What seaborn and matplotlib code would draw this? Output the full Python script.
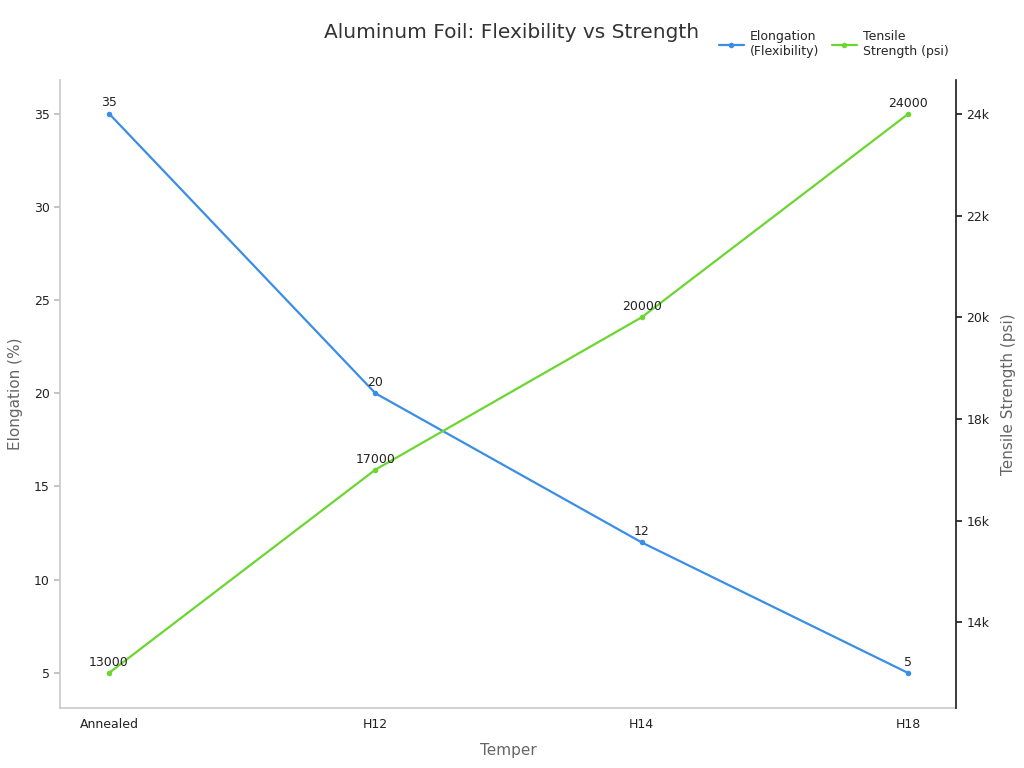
import matplotlib
matplotlib.use("Agg")
import matplotlib.pyplot as plt
import seaborn as sns
import pandas as pd
from matplotlib.ticker import FuncFormatter

tempers = ["Annealed", "H12", "H14", "H18"]
elongation = [35, 20, 12, 5]
tensile = [13000, 17000, 20000, 24000]

sns.set_theme(style="white")
plt.rcParams['font.family'] = ['DejaVu Sans']

blue = "#3a8ee6"
green = "#6cd630"

fig = plt.figure(figsize=(10.24, 7.68), dpi=100)
ax = fig.add_axes([60/1024, 60/768, 896/1024, 628/768])
ax2 = ax.twinx()

df = pd.DataFrame({"x": range(len(tempers)), "e": elongation, "t": tensile})
sns.lineplot(data=df, x="x", y="e", ax=ax, color=blue, marker="o", markersize=4,
             markeredgewidth=0, linewidth=1.6, label="Elongation\n(Flexibility)", legend=False)
sns.lineplot(data=df, x="x", y="t", ax=ax2, color=green, marker="o", markersize=4,
             markeredgewidth=0, linewidth=1.6, label="Tensile\nStrength (psi)", legend=False)

for i, v in enumerate(elongation):
    ax.annotate(str(v), (i, v), xytext=(0, 3), textcoords="offset points",
                ha="center", va="bottom", fontsize=9, color="#222222")
for i, v in enumerate(tensile):
    ax2.annotate(str(v), (i, v), xytext=(0, 3), textcoords="offset points",
                 ha="center", va="bottom", fontsize=9, color="#222222")

ax.set_xlim(-0.184, 3.18)
ax.set_ylim(3.12, 36.8)
ax2.set_ylim(12310, 24670)
ax.set_xticks(range(len(tempers)))
ax.set_xticklabels(tempers)
ax.set_yticks([5, 10, 15, 20, 25, 30, 35])
ax2.set_yticks([14000, 16000, 18000, 20000, 22000, 24000])
ax2.yaxis.set_major_formatter(FuncFormatter(lambda v, p: f"{int(v/1000)}k"))

for a in (ax, ax2):
    a.tick_params(axis="both", labelsize=9, colors="#222222", length=4)
    a.spines["top"].set_visible(False)
ax.tick_params(axis="x", length=4, color="#bbbbbb")
ax.tick_params(axis="y", color="#bbbbbb")
ax.spines["left"].set_color("#cccccc")
ax.spines["bottom"].set_color("#cccccc")
ax.spines["right"].set_visible(False)
ax2.spines["left"].set_visible(False)
ax2.spines["bottom"].set_visible(False)
ax2.spines["right"].set_color("#222222")
ax2.tick_params(axis="y", color="#222222")

ax.set_xlabel("Temper", fontsize=11, color="#666666", labelpad=8)
ax.set_ylabel("Elongation (%)", fontsize=11, color="#666666", labelpad=8)
ax2.set_ylabel("Tensile Strength (psi)", fontsize=11, color="#666666", labelpad=8)

fig.text(512/1024, 1 - 33/768, "Aluminum Foil: Flexibility vs Strength", ha="center",
         va="center", fontsize=14.5, color="#333333")

h1, l1 = ax.get_legend_handles_labels()
h2, l2 = ax2.get_legend_handles_labels()
fig.legend(h1 + h2, l1 + l2, loc="center right", bbox_to_anchor=(960/1024, 1 - 44/768),
           ncol=2, frameon=False, fontsize=9, handlelength=2, columnspacing=1,
           handletextpad=0.5)

fig.savefig("out.png", dpi=100)
